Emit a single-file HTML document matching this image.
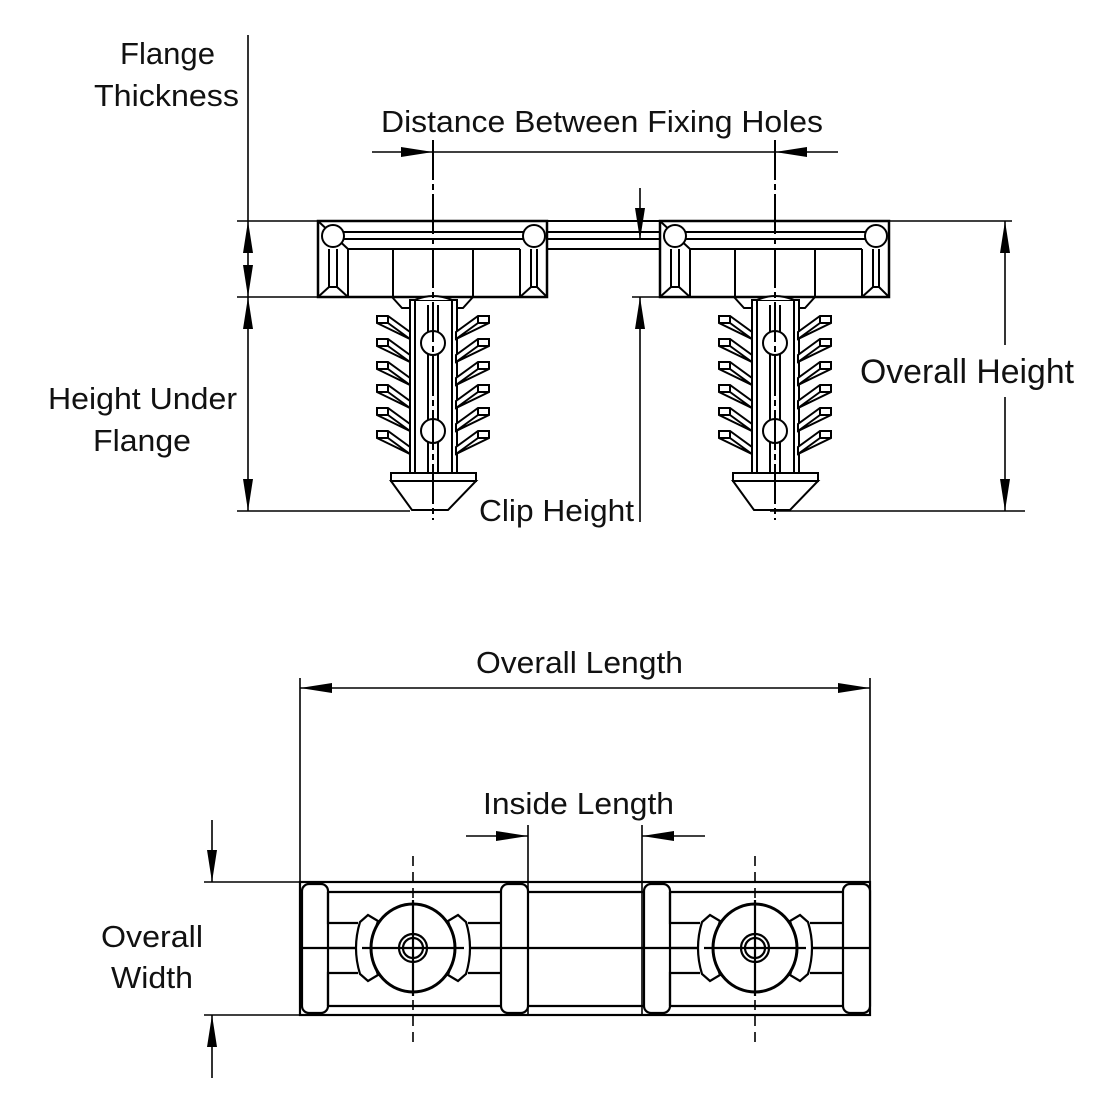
<!DOCTYPE html>
<html><head><style>
html,body{margin:0;padding:0;background:#fff;}
svg{display:block}
text{font-family:"Liberation Sans",Arial,sans-serif;font-size:31px;fill:#111;}
</style></head><body>
<svg width="1100" height="1100" viewBox="0 0 1100 1100" xmlns="http://www.w3.org/2000/svg">
<defs>
<marker id="b" viewBox="0 0 10 10" refX="10" refY="5" markerWidth="32" markerHeight="10" markerUnits="userSpaceOnUse" orient="auto-start-reverse" preserveAspectRatio="none">
<path d="M0,0 L10,5 L0,10 z" fill="#000"/></marker>
<g id="fin">
<path d="M377,316 L388,316 L410,332 L410,339 L377,323 Z M377,323 L388,323 L388,316 M388,323 L410,339" fill="#fff" stroke="#000" stroke-width="2"/>
</g>
<g id="clip" fill="#fff" stroke="#000" stroke-width="2">
<rect x="318" y="221" width="229" height="76" stroke-width="2.5"/>
<path d="M330,232 L535,232 M336,239 L529,239 M348,249 L520,249" fill="none"/>
<path d="M318,221 L348,249 M318,297 L329,287 L337,287 L348,297 M329,287 L329,249 M337,287 L337,249 M348,249 L348,297 M393,249 L393,297 M473,249 L473,297 M520,249 L520,297 M547,249 L547,297 M520,297 L531,287 L537,287 L547,297 M531,287 L531,249 M537,287 L537,249" fill="none"/>
<circle cx="333" cy="236" r="11"/>
<circle cx="534" cy="236" r="11"/>
<path d="M392,297 L402,308 L463,308 L473,297" fill="none"/>
<rect x="410" y="300" width="47" height="175"/>
<rect x="415" y="300" width="37" height="175"/>
<path d="M415,300 Q433,292 452,300" fill="#fff"/>
<path d="M428,305 L428,472 M438,305 L438,472" fill="none"/>
<circle cx="433" cy="343" r="12"/>
<circle cx="433" cy="431" r="12"/>
<rect x="391" y="473" width="85" height="8"/>
<path d="M391,481 L412,510 L448,510 L476,481 Z"/>
<use href="#fin"/>
<use href="#fin" y="23"/>
<use href="#fin" y="46"/>
<use href="#fin" y="69"/>
<use href="#fin" y="92"/>
<use href="#fin" y="115"/>
<g transform="translate(866,0) scale(-1,1)">
<use href="#fin"/>
<use href="#fin" y="23"/>
<use href="#fin" y="46"/>
<use href="#fin" y="69"/>
<use href="#fin" y="92"/>
<use href="#fin" y="115"/>
</g>
<path d="M433,140 L433,520" stroke-dasharray="40,4,6,4" fill="none"/>
</g>
</defs>

<g fill="none" stroke="#000" stroke-width="2">
<path d="M547,221 L662,221 M547,232 L662,232 M547,239 L662,239 M547,249 L662,249"/>
</g>
<use href="#clip"/>
<use href="#clip" x="342"/>

<g stroke="#000" stroke-width="1.6" fill="none">
<line x1="248" y1="35" x2="248" y2="221"/>
<line x1="237" y1="221" x2="318" y2="221"/>
<line x1="237" y1="297" x2="318" y2="297"/>
<line x1="248" y1="221" x2="248" y2="297" marker-start="url(#b)" marker-end="url(#b)"/>
<line x1="248" y1="297" x2="248" y2="511" marker-start="url(#b)" marker-end="url(#b)"/>
<line x1="237" y1="511" x2="410" y2="511"/>
<line x1="640" y1="188" x2="640" y2="240" marker-end="url(#b)"/>
<line x1="640" y1="522" x2="640" y2="297" marker-end="url(#b)"/>
<line x1="632" y1="297" x2="662" y2="297"/>
<line x1="372" y1="152" x2="433" y2="152" marker-end="url(#b)"/>
<line x1="433" y1="152" x2="775" y2="152"/>
<line x1="838" y1="152" x2="775" y2="152" marker-end="url(#b)"/>
<line x1="890" y1="221" x2="1012" y2="221"/>
<line x1="770" y1="511" x2="1025" y2="511"/>
<line x1="1005" y1="221" x2="1005" y2="345" marker-start="url(#b)"/>
<line x1="1005" y1="397" x2="1005" y2="511" marker-end="url(#b)"/>
</g>

<text x="120" y="64" textLength="95" lengthAdjust="spacingAndGlyphs">Flange</text>
<text x="94" y="106" textLength="145" lengthAdjust="spacingAndGlyphs">Thickness</text>
<text x="381" y="132" textLength="442" lengthAdjust="spacingAndGlyphs">Distance Between Fixing Holes</text>
<text x="48" y="409" textLength="189" lengthAdjust="spacingAndGlyphs">Height Under</text>
<text x="93" y="451" textLength="98" lengthAdjust="spacingAndGlyphs">Flange</text>
<text x="479" y="521" textLength="155" lengthAdjust="spacingAndGlyphs">Clip Height</text>
<text x="860" y="383" style="font-size:34px" textLength="214" lengthAdjust="spacingAndGlyphs">Overall Height</text>

<text x="476" y="673" textLength="207" lengthAdjust="spacingAndGlyphs">Overall Length</text>
<text x="483" y="814" textLength="191" lengthAdjust="spacingAndGlyphs">Inside Length</text>
<text x="101" y="947" textLength="102" lengthAdjust="spacingAndGlyphs">Overall</text>
<text x="111" y="988" textLength="82" lengthAdjust="spacingAndGlyphs">Width</text>

<g stroke="#000" stroke-width="1.6" fill="none">
<line x1="300" y1="678" x2="300" y2="1015"/>
<line x1="870" y1="678" x2="870" y2="882"/>
<line x1="300" y1="688" x2="870" y2="688" marker-start="url(#b)" marker-end="url(#b)"/>
<line x1="528" y1="825" x2="528" y2="1015"/>
<line x1="642" y1="825" x2="642" y2="1015"/>
<line x1="466" y1="836" x2="528" y2="836" marker-end="url(#b)"/>
<line x1="705" y1="836" x2="642" y2="836" marker-end="url(#b)"/>
<line x1="204" y1="882" x2="300" y2="882"/>
<line x1="204" y1="1015" x2="300" y2="1015"/>
<line x1="212" y1="820" x2="212" y2="882" marker-end="url(#b)"/>
<line x1="212" y1="1078" x2="212" y2="1015" marker-end="url(#b)"/>
</g>

<g stroke="#000" stroke-width="2.2" fill="none">
<rect x="300" y="882" width="570" height="133"/>
<line x1="300" y1="892" x2="870" y2="892"/>
<line x1="300" y1="1006" x2="870" y2="1006"/>
<line x1="300" y1="948" x2="870" y2="948"/>
<g id="bb">
<rect x="302" y="884" width="26" height="129" rx="7" fill="#fff"/>
<rect x="501" y="884" width="27" height="129" rx="7" fill="#fff"/>
<line x1="300" y1="948" x2="528" y2="948"/>
<path d="M328,892 L328,923 L358,923 M468,923 L501,923 M328,1006 L328,973 L358,973 M468,973 L501,973"/>
<path d="M368,915 L360,922 Q352,948 360,974 L368,981 L378,975 Q368,948 378,921 Z" fill="#fff"/>
<path d="M458,915 L466,922 Q474,948 466,974 L458,981 L448,975 Q458,948 448,921 Z" fill="#fff"/>
<ellipse cx="413" cy="948" rx="42" ry="44" fill="#fff" stroke-width="3"/>
<line x1="362" y1="948" x2="464" y2="948"/>
<circle cx="413" cy="948" r="14"/>
<circle cx="413" cy="948" r="10"/>
<line x1="413" y1="900" x2="413" y2="996"/>
<path d="M413,856 L413,1042" stroke-dasharray="10,6" stroke-width="1.6"/>
</g>
<use href="#bb" x="342"/>
</g>
</svg>
</body></html>
